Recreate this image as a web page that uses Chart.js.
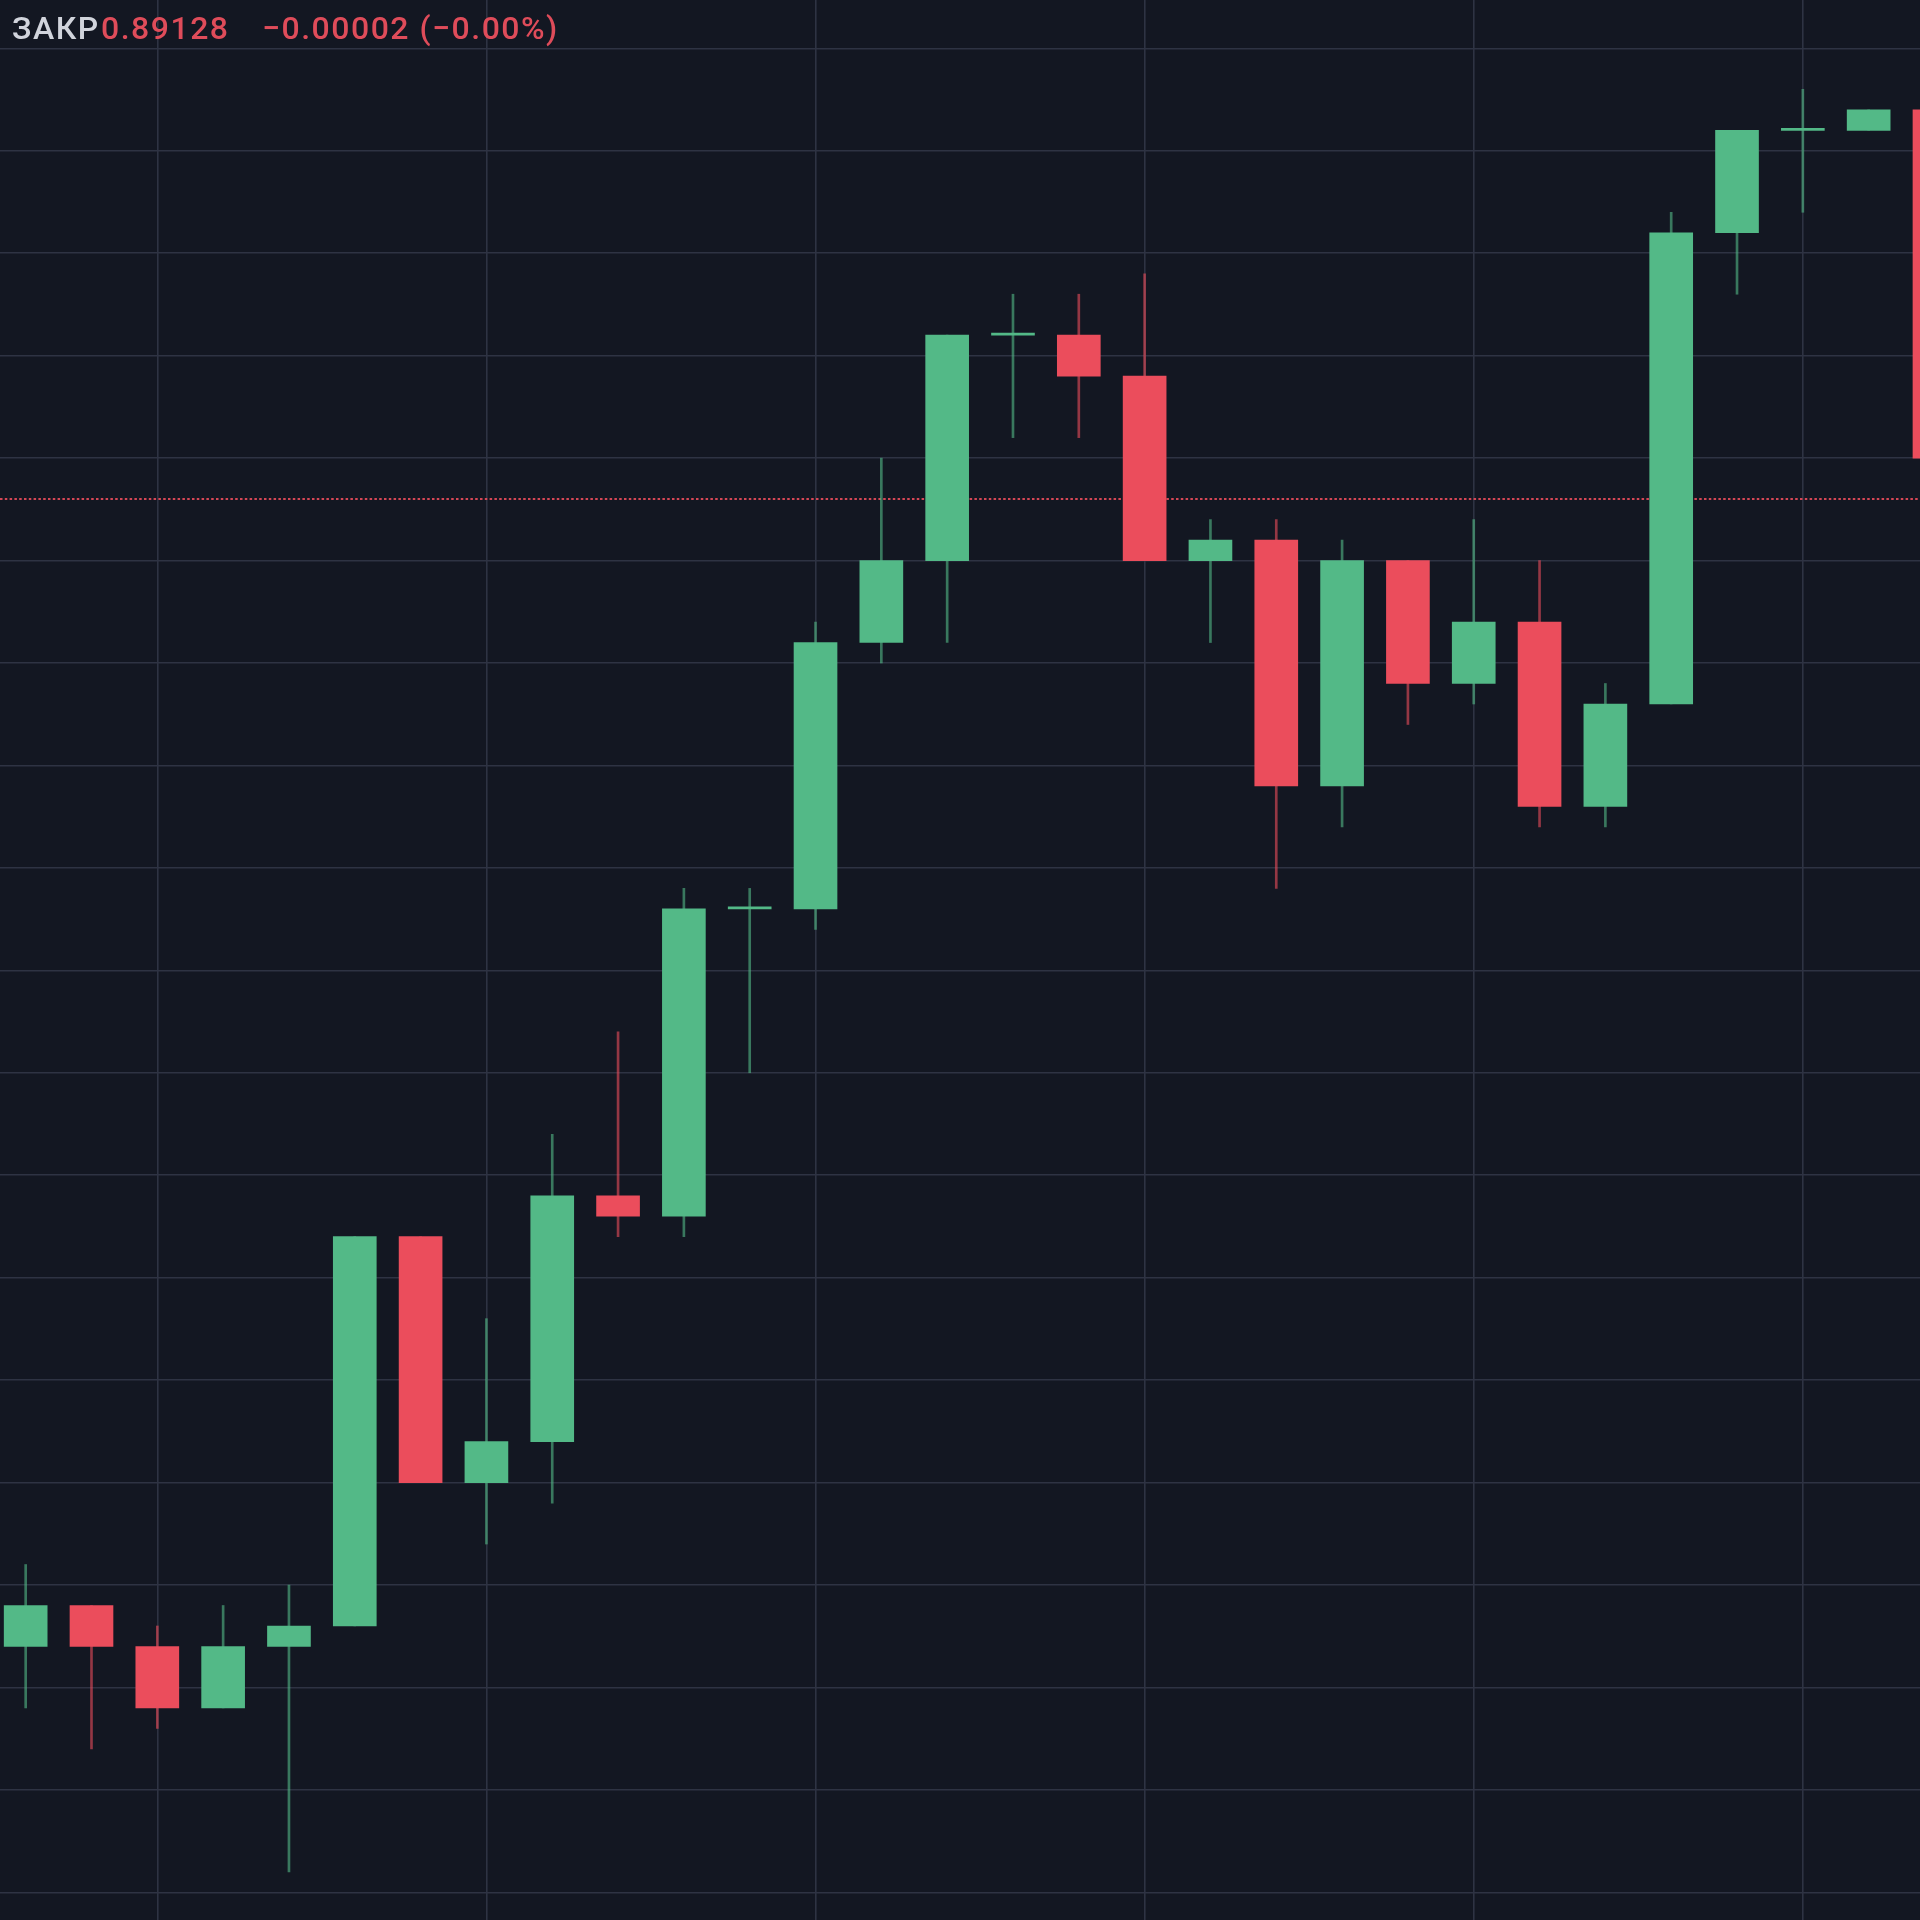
<!DOCTYPE html>
<html>
<head>
<meta charset="utf-8">
<script src="https://cdn.jsdelivr.net/npm/chart.js@4"></script>
<style>
    html, body { margin: 0; padding: 0; background: #131722; }
    #wrap { position: relative; width: 1920px; height: 1920px; }
    #head { position: absolute; top: 12px; left: 0; height: 32px; font-family: Roboto, "Liberation Sans", sans-serif; font-weight: 500; font-size: 32px; line-height: 32px; letter-spacing: 1.5px; white-space: nowrap; }
    #head span { position: absolute; top: 0; }
    .lbl { color: #d1d4dc; }
    .dn { color: #df4c5a; }
</style>
</head>
<body>
<div id="wrap">
    <canvas id="chart" width="1920" height="1920"></canvas>
    <div id="head">
        <span class="lbl" style="left:12px">ЗАКР</span>
        <span class="dn" id="lastTxt" style="left:101px"></span>
        <span class="dn" id="chgTxt" style="left:262px"></span>
    </div>
</div>
<script>
// Velas (OHLC)
const opens  = [0.89072, 0.89074, 0.89072, 0.89069, 0.89072, 0.89073, 0.89092, 0.89080, 0.89082, 0.89094,
                0.89093, 0.89108, 0.89108, 0.89121, 0.89125, 0.89136, 0.89136, 0.89134, 0.89125, 0.89126,
                0.89114, 0.89125, 0.89119, 0.89122, 0.89113, 0.89118, 0.89141, 0.89146, 0.89146, 0.89147];
const highs  = [0.89076, 0.89074, 0.89073, 0.89074, 0.89075, 0.89092, 0.89092, 0.89088, 0.89097, 0.89102,
                0.89109, 0.89109, 0.89122, 0.89130, 0.89136, 0.89138, 0.89138, 0.89139, 0.89127, 0.89127,
                0.89126, 0.89125, 0.89127, 0.89125, 0.89119, 0.89142, 0.89146, 0.89148, 0.89147, 0.89147];
const lows   = [0.89069, 0.89067, 0.89068, 0.89069, 0.89061, 0.89073, 0.89080, 0.89077, 0.89079, 0.89092,
                0.89092, 0.89100, 0.89107, 0.89120, 0.89121, 0.89131, 0.89131, 0.89125, 0.89121, 0.89109,
                0.89112, 0.89117, 0.89118, 0.89112, 0.89112, 0.89118, 0.89138, 0.89142, 0.89146, 0.89130];
const closes = [0.89074, 0.89072, 0.89069, 0.89072, 0.89073, 0.89092, 0.89080, 0.89082, 0.89094, 0.89093,
                0.89108, 0.89108, 0.89121, 0.89125, 0.89136, 0.89136, 0.89134, 0.89125, 0.89126, 0.89114,
                0.89125, 0.89119, 0.89122, 0.89113, 0.89118, 0.89141, 0.89146, 0.89146, 0.89147, 0.89130];

// Último precio y cambio (cabecera y línea punteada)
const lastPrice = 0.89128;
const change = -0.00002;
const changePct = -0.00;

// Líneas de la rejilla
const yTicks = [0.89060, 0.89065, 0.89070, 0.89075, 0.89080, 0.89085, 0.89090, 0.89095, 0.89100, 0.89105,
                0.89110, 0.89115, 0.89120, 0.89125, 0.89130, 0.89135, 0.89140, 0.89145, 0.89150];
const xTicks = [2, 7, 12, 17, 22, 27];

const UP = '#53b987';
const DOWN = '#eb4d5c';
const xMin = -0.39, xMax = 28.78;

document.getElementById('lastTxt').textContent = lastPrice.toFixed(5);
document.getElementById('chgTxt').textContent =
    '\u2212' + Math.abs(change).toFixed(5) + ' (\u2212' + Math.abs(changePct).toFixed(2) + '%)';

const isUp = i => closes[i] >= opens[i];

new Chart(document.getElementById('chart'), {
    type: 'bar',
    data: {
        datasets: [
            {
                // cuerpos
                data: opens.map((o, i) => ({ x: i, y: [o, closes[i]] })),
                backgroundColor: ctx => isUp(ctx.dataIndex) ? UP : DOWN,
                barThickness: 43,
                minBarLength: 2,
                grouped: false,
                order: 1
            },
            {
                // mechas
                data: highs.map((h, i) => ({ x: i, y: [lows[i], h] })),
                backgroundColor: ctx => isUp(ctx.dataIndex) ? 'rgba(83,185,135,0.6)' : 'rgba(235,77,92,0.6)',
                barThickness: 2,
                grouped: false,
                order: 2
            },
            {
                // línea del último precio
                type: 'line',
                data: [{ x: xMin, y: lastPrice }, { x: xMax, y: lastPrice }],
                borderColor: 'rgba(235,77,92,0.9)',
                borderWidth: 2,
                borderDash: [2.5, 2.3],
                pointRadius: 0,
                order: 3
            }
        ]
    },
    options: {
        responsive: false,
        animation: false,
        events: [],
        layout: { padding: 0 },
        plugins: { legend: { display: false }, tooltip: { enabled: false } },
        scales: {
            x: {
                type: 'linear',
                min: xMin,
                max: xMax,
                offset: false,
                ticks: { display: false },
                border: { display: false },
                grid: { color: '#2e3343', lineWidth: 1.6, drawTicks: false, offset: false },
                afterBuildTicks: s => { s.ticks = xTicks.map(v => ({ value: v })); }
            },
            y: {
                min: 0.8905865,
                max: 0.8915236,
                beginAtZero: false,
                ticks: { display: false },
                border: { display: false },
                grid: { color: '#2e3343', lineWidth: 1.6, drawTicks: false },
                afterBuildTicks: s => { s.ticks = yTicks.map(v => ({ value: v })); }
            }
        }
    }
});
</script>
</body>
</html>
